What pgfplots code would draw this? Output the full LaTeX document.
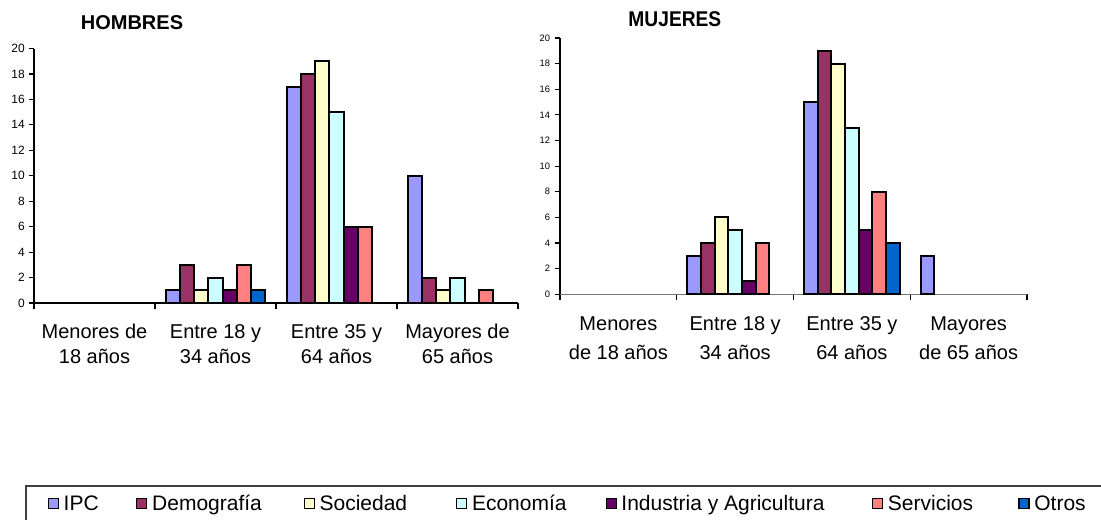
\documentclass[border=0pt]{standalone}
\usepackage{fontspec}
\setmainfont{Liberation Sans}
\usepackage{pgfplots}
\pgfplotsset{compat=1.18}

% Excel-style series colours
\definecolor{cIPC}{HTML}{9999FF}
\definecolor{cDem}{HTML}{993366}
\definecolor{cSoc}{HTML}{FFFFCC}
\definecolor{cEco}{HTML}{CCFFFF}
\definecolor{cInd}{HTML}{660066}
\definecolor{cSer}{HTML}{FF8080}
\definecolor{cOtr}{HTML}{0066CC}

\pgfplotsset{
  agebars/.style={
    scale only axis,
    anchor=south west,
    xmin=-0.5, xmax=3.5,
    ymin=0, ymax=20,
    ytick={0,2,...,20},
    xtick={0,1,2,3},
    minor xtick={-0.5,0.5,1.5,2.5,3.5},
    axis x line=bottom,
    axis y line=left,
    axis line style={-, line width=0.9pt},
    tick align=outside,
    major tick length=3.4pt,
    minor tick length=4.6pt,
    major x tick style={draw=none},
    minor x tick style={black, line width=0.9pt},
    y tick style={black, line width=0.9pt},
    xticklabel style={align=center, anchor=north},
    /pgf/number format/assume math mode=true,
    clip=false,
  },
  % one bar per series inside a category, seven slots, no gap between bars
  bar/.style 2 args={ybar, bar width=0.11765, bar shift=#1, fill=#2,
    draw=black, line width=1.5pt,
    legend image code/.code={\draw[##1,/tikz/.cd,line width=0.8pt]
      (0pt,-3.6pt) rectangle (7.5pt,3.9pt);
      \path (9.8pt,0pt);}},
}

\begin{document}
\begin{tikzpicture}
\useasboundingbox (0,0) rectangle (825.75pt,-390pt);

% ---------------- HOMBRES ----------------
\begin{axis}[agebars,
  at={(25.5pt,-227.25pt)}, width=363pt, height=190.875pt,
  yticklabel style={font=\fontsize{9}{10}\selectfont},
  xticklabel style={font=\fontsize{15}{18.75}\selectfont, yshift=-9pt},
  xticklabels={{Menores de\\18 años},{Entre 18 y\\34 años},{Entre 35 y\\64 años},{Mayores de\\65 años}},
  title={HOMBRES},
  title style={at={(0.2025,1.0766)}, anchor=base, inner sep=0pt, yshift=-6pt,
    font=\bfseries\fontsize{15}{18}\selectfont},
  legend columns=7,
  legend style={at={(-0.0186,-0.716)}, anchor=north west,
    draw=black!75, line width=1.2pt, inner xsep=16.5pt, inner ysep=5pt,
    font=\fontsize{15.75}{18}\selectfont, /tikz/column sep=0pt,
    cells={anchor=west}, nodes={inner xsep=1pt}},
]
\addplot[bar={-0.35294}{cIPC}] coordinates {(1,1) (2,17) (3,10)};
\addlegendentry{\makebox[53.4pt][l]{IPC}}
\addplot[bar={-0.23529}{cDem}] coordinates {(1,3) (2,18) (3,2)};
\addlegendentry{\makebox[112.6pt][l]{Demografía}}
\addplot[bar={-0.11765}{cSoc}] coordinates {(1,1) (2,19) (3,1)};
\addlegendentry{\makebox[101.4pt][l]{Sociedad}}
\addplot[bar={0}{cEco}] coordinates {(1,2) (2,15) (3,2)};
\addlegendentry{\makebox[99.1pt][l]{Economía}}
\addplot[bar={0.11765}{cInd}] coordinates {(1,1) (2,6)};
\addlegendentry{\makebox[186.9pt][l]{Industria y Agricultura}}
\addplot[bar={0.23529}{cSer}] coordinates {(1,3) (2,6) (3,1)};
\addlegendentry{\makebox[96.9pt][l]{Servicios}}
\addplot[bar={0.35294}{cOtr}] coordinates {(1,1)};
\addlegendentry{\makebox[60pt][l]{Otros}}
\end{axis}

% ---------------- MUJERES ----------------
\begin{axis}[agebars,
  at={(420pt,-220.725pt)}, width=350.25pt, height=192.225pt,
  x axis line style={draw=black!55},
  major tick length=4pt,
  yticklabel style={font=\fontsize{7}{8}\selectfont},
  xticklabel style={font=\fontsize{15}{21.75}\selectfont, yshift=-9pt},
  xticklabels={{Menores\\de 18 años},{Entre 18 y\\34 años},{Entre 35 y\\64 años},{Mayores\\de 65 años}},
  title={\scalebox{0.9}[1]{MUJERES}},
  title style={at={(0.246,1.043)}, anchor=base, inner sep=0pt, yshift=-6pt,
    font=\bfseries\fontsize{16}{18}\selectfont},
]
\addplot[bar={-0.35294}{cIPC}] coordinates {(1,3) (2,15) (3,3)};
\addplot[bar={-0.23529}{cDem}] coordinates {(1,4) (2,19)};
\addplot[bar={-0.11765}{cSoc}] coordinates {(1,6) (2,18)};
\addplot[bar={0}{cEco}] coordinates {(1,5) (2,13)};
\addplot[bar={0.11765}{cInd}] coordinates {(1,1) (2,5)};
\addplot[bar={0.23529}{cSer}] coordinates {(1,4) (2,8)};
\addplot[bar={0.35294}{cOtr}] coordinates {(2,4)};
\end{axis}
\end{tikzpicture}
\end{document}
